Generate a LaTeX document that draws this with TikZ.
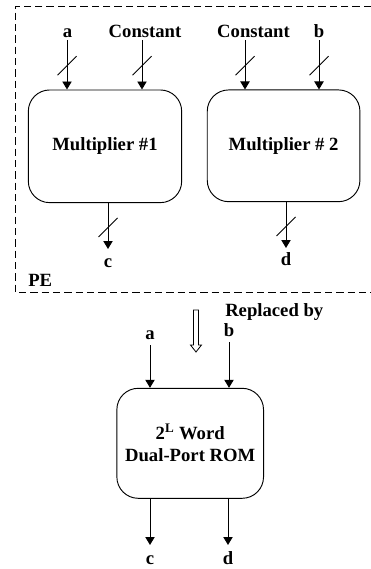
\documentclass[tikz,border=0pt]{standalone}
\usepackage{fontspec}
\setmainfont{Liberation Serif}
\usetikzlibrary{arrows.meta,positioning}

\begin{document}
\begin{tikzpicture}[
  x=0.75pt, y=-0.75pt,
  blk/.style={draw, rounded corners=16pt, line width=0.7pt, align=center, font=\fontsize{14}{16.5}\selectfont\bfseries},
  lbl/.style={font=\fontsize{14}{16.5}\selectfont\bfseries, inner sep=0pt, anchor=base},
  arr/.style={-{Triangle[width=7pt,length=6pt]}, line width=0.7pt},
  bus/.style={line width=0.7pt},
  pe/.style={dash pattern=on 5.5pt off 3pt, line width=0.7pt}
]
  \useasboundingbox (0,0) rectangle (371,569);
  % --- Processing element ---
  \draw[pe] (371,6) -- (15,6) -- (15,292) -- (371,292);
  \node[lbl, anchor=base west] (pe) at (28,286) {PE};
  % multipliers
  \node[blk, minimum width=115pt, minimum height=84.5pt] (m1) at (105,146.3) {Multiplier \#1};
  \node[blk, minimum width=114.5pt, minimum height=83.8pt] (m2) at (283.6,145.8) {Multiplier \# 2};
  % inputs
  \node[lbl] (a1) at (67.5,37) {a};
  \node[lbl] (k1) at (145,37) {Constant};
  \node[lbl] (k2) at (253.5,37) {Constant};
  \node[lbl] (b1) at (319,37) {b};
  \coordinate (ia) at (67,40); \coordinate (ik1) at (142,40);
  \coordinate (ik2) at (245,40); \coordinate (ib) at (319,40);
  \draw[arr] (ia) -- coordinate[pos=.52] (sa) (ia |- m1.north);
  \draw[arr] (ik1) -- coordinate[pos=.52] (sk1) (ik1 |- m1.north);
  \draw[arr] (ik2) -- coordinate[pos=.52] (sk2) (ik2 |- m2.north);
  \draw[arr] (ib) -- coordinate[pos=.52] (sb) (ib |- m2.north);
  \draw[bus] (sa) +(-9.5,9.5) -- +(9.5,-9.5); \draw[bus] (sk1) +(-9.5,9.5) -- +(9.5,-9.5);
  \draw[bus] (sk2) +(-9.5,9.5) -- +(9.5,-9.5); \draw[bus] (sb) +(-9.5,9.5) -- +(9.5,-9.5);
  % outputs
  \coordinate (oc) at (108,249); \coordinate (od) at (286,248);
  \draw[arr] (m1.south -| oc) -- coordinate[pos=.53] (sc) (oc);
  \draw[arr] (m2.south -| od) -- coordinate[pos=.53] (sd) (od);
  \draw[bus] (sc) +(-9.5,9.5) -- +(9.5,-9.5); \draw[bus] (sd) +(-9.5,9.5) -- +(9.5,-9.5);
  \node[lbl] (c1) at (108,267) {c};
  \node[lbl] (d1) at (286,265) {d};
  % --- Replacement ---
  \node[lbl, anchor=base west] (rep) at (225,316) {Replaced by};
  \draw[line width=0.6pt] (193.5,310) -- (198.5,310) -- (198.5,345) -- (201.5,345)
    -- (196,352) -- (190.5,345) -- (193.5,345) -- cycle;
  % rom
  \node[blk, minimum width=110pt, minimum height=82.5pt] (rom) at (190.2,443.3)
    {2\textsuperscript{L} Word\\Dual-Port ROM};
  \node[lbl] (a2) at (150,339) {a};
  \node[lbl] (b2) at (229,336) {b};
  \coordinate (ra) at (150,345); \coordinate (rb) at (229,342);
  \draw[arr] (ra) -- (ra |- rom.north);
  \draw[arr] (rb) -- (rb |- rom.north);
  \coordinate (rc) at (150,545); \coordinate (rd) at (228,545);
  \draw[arr] (rom.south -| rc) -- (rc);
  \draw[arr] (rom.south -| rd) -- (rd);
  \node[lbl] (c2) at (150,564) {c};
  \node[lbl] (d2) at (228,564) {d};
\end{tikzpicture}
\end{document}
